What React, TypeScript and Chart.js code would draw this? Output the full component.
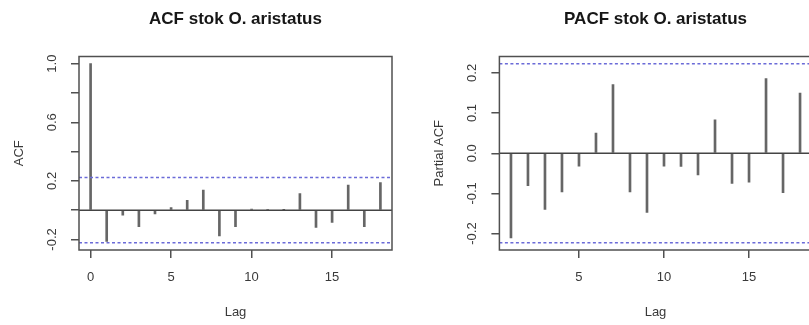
import React, { useEffect, useRef } from "react";
import { Chart, registerables } from "chart.js";

Chart.register(...registerables);

// ---- data ----
const acfLags = [0, 1, 2, 3, 4, 5, 6, 7, 8, 9, 10, 11, 12, 13, 14, 15, 16, 17, 18];
const acfValues = [1.0, -0.213, -0.035, -0.113, -0.025, 0.017, 0.067, 0.137, -0.176, -0.113, 0.008, 0.005, 0.003, 0.114, -0.118, -0.083, 0.172, -0.113, 0.188];
const pacfLags = [1, 2, 3, 4, 5, 6, 7, 8, 9, 10, 11, 12, 13, 14, 15, 16, 17, 18];
const pacfValues = [-0.211, -0.081, -0.14, -0.096, -0.032, 0.05, 0.171, -0.096, -0.147, -0.032, -0.033, -0.054, 0.083, -0.075, -0.072, 0.186, -0.098, 0.15];
const confLimit = 0.223;

const acfXTicks = [0, 5, 10, 15];
const acfYTicks = [-0.2, 0, 0.2, 0.4, 0.6, 0.8, 1.0];
const acfYTickLabels = ["-0.2", "", "0.2", "", "0.6", "", "1.0"];
const pacfXTicks = [5, 10, 15];
const pacfYTicks = [-0.2, -0.1, 0, 0.1, 0.2];
const pacfYTickLabels = ["-0.2", "-0.1", "0.0", "0.1", "0.2"];

const acfTitle = "ACF stok O. aristatus";
const pacfTitle = "PACF stok O. aristatus";
const xTitle = "Lag";
const acfYTitle = "ACF";
const pacfYTitle = "Partial ACF";

// ---- styling ----
const FONT = '"Liberation Sans", Arial, Helvetica, sans-serif';
const AXIS_COLOR = "#505050";
const TEXT_COLOR = "#3a3a3a";
const BAR_COLOR = "#666666";
const CI_COLOR = "#6b6bd8";

function rRange(lo: number, hi: number): [number, number] {
  const d = (hi - lo) * 0.04;
  return [lo - d, hi + d];
}

const rPlotDecor = {
  id: "rPlotDecor",
  afterDraw(chart: any, _args: any, opts: any) {
    const { ctx, chartArea: a, scales } = chart;
    ctx.save();
    // plot box
    ctx.strokeStyle = AXIS_COLOR;
    ctx.lineWidth = 1.5;
    ctx.strokeRect(a.left, a.top, a.right - a.left, a.bottom - a.top);

    const cx = (a.left + a.right) / 2;
    const cy = (a.top + a.bottom) / 2;

    // main title
    ctx.fillStyle = "#161616";
    ctx.font = `bold 17px ${FONT}`;
    ctx.textAlign = "center";
    ctx.textBaseline = "alphabetic";
    ctx.fillText(opts.title, cx, 23.5);

    // x tick labels
    ctx.fillStyle = TEXT_COLOR;
    ctx.font = `13px ${FONT}`;
    const xs = scales.x;
    (opts.xTicks as number[]).forEach((v) => {
      ctx.fillText(String(v), xs.getPixelForValue(v), a.bottom + 31);
    });
    // x title
    ctx.fillText(opts.xTitle, cx, a.bottom + 66);

    // y tick labels (rotated, R las=0)
    const ys = scales.y;
    (opts.yTicks as number[]).forEach((v, i) => {
      const lab = opts.yLabels[i];
      if (!lab) return;
      ctx.save();
      ctx.translate(a.left - 23, ys.getPixelForValue(v));
      ctx.rotate(-Math.PI / 2);
      ctx.textAlign = "center";
      ctx.fillText(lab, 0, 0);
      ctx.restore();
    });
    // y title
    ctx.save();
    ctx.translate(a.left - 56.5, cy);
    ctx.rotate(-Math.PI / 2);
    ctx.textAlign = "center";
    ctx.fillText(opts.yTitle, 0, 0);
    ctx.restore();

    ctx.restore();
  },
};

type PanelProps = {
  left: number;
  width: number;
  lags: number[];
  values: number[];
  xTicks: number[];
  yTicks: number[];
  yLabels: string[];
  title: string;
  yTitle: string;
  axisWidth: number;
  padRight: number;
};

function Panel(p: PanelProps) {
  const ref = useRef<HTMLCanvasElement | null>(null);
  useEffect(() => {
    if (!ref.current) return;
    const [xmin, xmax] = rRange(Math.min(...p.lags), Math.max(...p.lags));
    const [ymin, ymax] = rRange(
      Math.min(...p.values, -confLimit),
      Math.max(...p.values, confLimit)
    );
    const lineDs = (y: number, dashed: boolean, color: string) => ({
      type: "line" as const,
      data: [
        { x: xmin, y },
        { x: xmax, y },
      ],
      borderColor: color,
      borderWidth: 1.5,
      borderDash: dashed ? [3, 2.5] : [],
      pointRadius: 0,
      fill: false,
    });
    const chart = new Chart(ref.current, {
      type: "bar",
      data: {
        datasets: [
          lineDs(confLimit, true, CI_COLOR) as any,
          lineDs(-confLimit, true, CI_COLOR) as any,
          lineDs(0, false, "#444") as any,
          {
            type: "bar",
            data: p.lags.map((l, i) => ({ x: l, y: p.values[i] })),
            backgroundColor: BAR_COLOR,
            borderWidth: 0,
            barThickness: 2,
          },
        ],
      },
      options: {
        responsive: false,
        animation: false,
        events: [],
        layout: { padding: { top: 56.5, left: 0, right: p.padRight, bottom: 0 } },
        plugins: {
          legend: { display: false },
          tooltip: { enabled: false },
          title: { display: false },
          rPlotDecor: {
            title: p.title,
            xTicks: p.xTicks,
            xTitle: xTitle,
            yTicks: p.yTicks,
            yLabels: p.yLabels,
            yTitle: p.yTitle,
          },
        } as any,
        scales: {
          x: {
            type: "linear",
            min: xmin,
            max: xmax,
            offset: false,
            border: { display: false },
            grid: {
              display: true,
              drawOnChartArea: false,
              drawTicks: true,
              tickLength: 8,
              color: AXIS_COLOR,
              lineWidth: 1.5,
              offset: false,
            },
            ticks: { display: false },
            afterBuildTicks: (s: any) => {
              s.ticks = p.xTicks.map((v) => ({ value: v }));
            },
            afterFit: (s: any) => {
              s.height = 75;
            },
          },
          y: {
            type: "linear",
            min: ymin,
            max: ymax,
            border: { display: false },
            grid: {
              display: true,
              drawOnChartArea: false,
              drawTicks: true,
              tickLength: 8,
              color: AXIS_COLOR,
              lineWidth: 1.5,
            },
            ticks: { display: false },
            afterBuildTicks: (s: any) => {
              s.ticks = p.yTicks.map((v) => ({ value: v }));
            },
            afterFit: (s: any) => {
              s.width = p.axisWidth;
            },
          },
        },
      },
      plugins: [rPlotDecor],
    });
    return () => chart.destroy();
  }, []);
  return (
    <canvas
      ref={ref}
      width={p.width}
      height={325}
      style={{ position: "absolute", left: p.left, top: 0, width: p.width, height: 325 }}
    />
  );
}

export default function App() {
  return (
    <div
      style={{
        position: "fixed",
        left: 0,
        top: 0,
        width: 809,
        height: 325,
        overflow: "hidden",
        background: "#fff",
      }}
    >
      <Panel
        left={0}
        width={405}
        lags={acfLags}
        values={acfValues}
        xTicks={acfXTicks}
        yTicks={acfYTicks}
        yLabels={acfYTickLabels}
        title={acfTitle}
        yTitle={acfYTitle}
        axisWidth={79}
        padRight={13}
      />
      <Panel
        left={405}
        width={420}
        lags={pacfLags}
        values={pacfValues}
        xTicks={pacfXTicks}
        yTicks={pacfYTicks}
        yLabels={pacfYTickLabels}
        title={pacfTitle}
        yTitle={pacfYTitle}
        axisWidth={94.4}
        padRight={13.4}
      />
    </div>
  );
}
